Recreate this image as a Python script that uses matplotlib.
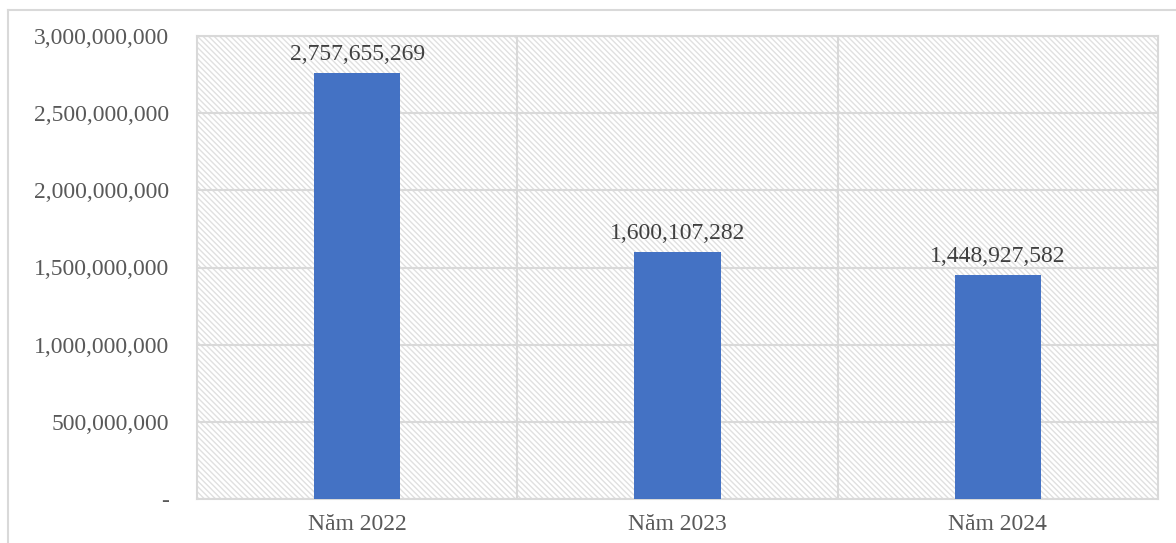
import matplotlib
matplotlib.use("Agg")
import matplotlib.pyplot as plt
from matplotlib.patches import Rectangle
from matplotlib.lines import Line2D

categories = ["Năm 2022", "Năm 2023", "Năm 2024"]
values = [2757655269, 1600107282, 1448927582]
yticks = [0, 500000000, 1000000000, 1500000000, 2000000000, 2500000000, 3000000000]
ytick_labels = ["-", "500,000,000", "1,000,000,000", "1,500,000,000",
                "2,000,000,000", "2,500,000,000", "3,000,000,000"]

plt.rcParams['font.family'] = ['Liberation Serif', 'DejaVu Serif']
plt.rcParams['hatch.color'] = '#e0e0e0'
plt.rcParams['hatch.linewidth'] = 1.0

W, H = 1176, 543
fig = plt.figure(figsize=(W / 100, H / 100), dpi=100)
ax = fig.add_axes([197 / W, 1 - 499 / H, (1158 - 197) / W, (499 - 36) / H])

grid_c = '#d9d9d9'
# hatched background
bg = Rectangle((0, 0), 1, 1, transform=ax.transAxes, facecolor='white',
               edgecolor='#e0e0e0', hatch='\\' * 6, linewidth=0, zorder=0)
ax.add_patch(bg)

x = list(range(len(categories)))
ax.bar(x, values, width=0.27, color='#4472C4', zorder=3)

ax.set_xlim(-0.5, len(categories) - 0.5)
ax.set_ylim(0, 3000000000)
ax.set_yticks(yticks)
ax.set_yticklabels(ytick_labels)
ax.set_xticks(x)
ax.set_xticklabels(categories)

for yv in yticks:
    ax.axhline(yv, color=grid_c, lw=1.5, zorder=1)
for b in [0.5, 1.5]:
    ax.axvline(b, color=grid_c, lw=1.5, zorder=1)

for s in ax.spines.values():
    s.set_color(grid_c)
    s.set_linewidth(1.5)

ax.tick_params(axis='both', length=0, labelsize=17, colors='#595959')
ax.tick_params(axis='y', pad=20)
ax.tick_params(axis='x', pad=11)

for xi, v in zip(x, values):
    ax.annotate(f"{v:,}", (xi, v), xytext=(0, 6), textcoords='offset points',
                ha='center', va='bottom', fontsize=17, color='#404040', zorder=4)

# outer chart frame
fig.add_artist(Line2D([8 / W, 8 / W], [0, 1 - 10 / H], transform=fig.transFigure,
                      color=grid_c, lw=1.5))
fig.add_artist(Line2D([8 / W, 1], [1 - 10 / H, 1 - 10 / H], transform=fig.transFigure,
                      color=grid_c, lw=1.5))

fig.savefig("out.png", dpi=100)
